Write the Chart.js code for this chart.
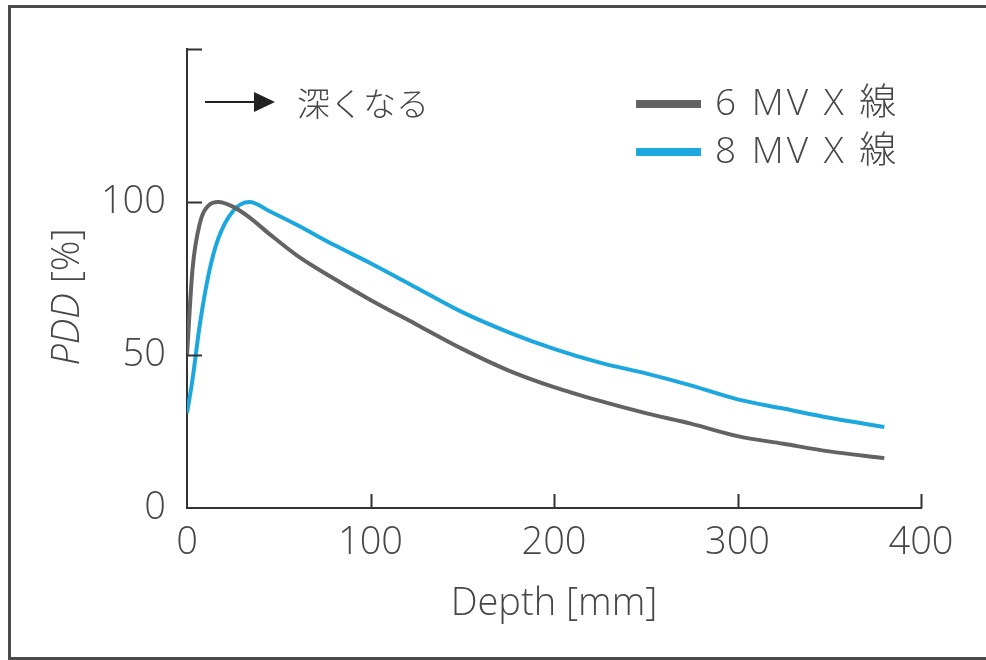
<!DOCTYPE html>
<html>
<head>
<meta charset="utf-8">
<script src="https://cdn.jsdelivr.net/npm/chart.js@4.4.1/dist/chart.umd.min.js"></script>
<style>
  html, body { margin: 0; padding: 0; background: #fff; }
  #wrap { width: 986px; height: 660px; }
</style>
</head>
<body>
<div id="wrap"><canvas id="pdd" width="986" height="660"></canvas></div>
<script>
// 深部線量百分率 (PDD) vs depth
const depth = [0, 3, 7, 12, 17, 25, 34, 45, 60, 80, 100, 125, 150, 175, 200, 225, 250, 275, 300, 325, 350, 380];
const pdd6MV = [50, 78, 93, 99, 100, 98.5, 95, 89.5, 82.5, 75, 68, 60, 52, 45, 39.5, 35, 31, 27.5, 23.5, 21, 18.5, 16.3];
const pdd8MV = [31, 42, 60, 77, 88, 97, 100, 97, 92.5, 86, 80, 72, 64, 57.5, 52, 47.5, 44, 40, 35.5, 32.5, 29.5, 26.5];
const seriesNames = ['6 MV X 線', '8 MV X 線'];
const xTickValues = [100, 200, 300, 400];
const yTickValues = [50, 100, 150];

const GRAY = '#636363';
const BLUE = '#1ca8df';
const TEXT = '#474747';
const FONT = "'Open Sans', 'Noto Sans CJK JP', sans-serif";

function points(ys) {
    return depth.map((d, i) => ({ x: d, y: ys[i] }));
}

// frame, inward ticks, axis titles, legend and the arrow note
const decorations = {
    id: 'decorations',
    beforeDraw(chart) {
        const ctx = chart.ctx;
        ctx.save();
        ctx.fillStyle = '#fff';
        ctx.fillRect(0, 0, chart.width, chart.height);
        ctx.strokeStyle = '#4a4a4a';
        ctx.lineWidth = 3;
        ctx.strokeRect(9.5, 6.5, 1000, 652);
        ctx.restore();
    },
    afterDraw(chart) {
        const ctx = chart.ctx;
        const xs = chart.scales.x, ys = chart.scales.y;
        const area = chart.chartArea;
        ctx.save();

        // tick marks point into the plot
        ctx.strokeStyle = '#333';
        ctx.lineWidth = 2;
        ctx.beginPath();
        yTickValues.forEach(v => {
            const py = Math.round(ys.getPixelForValue(v)) + 0.5;
            ctx.moveTo(area.left, py);
            ctx.lineTo(area.left + 15, py);
        });
        xTickValues.forEach(v => {
            const px = Math.round(xs.getPixelForValue(v)) + 0.5;
            ctx.moveTo(px, area.bottom);
            ctx.lineTo(px, area.bottom - 14);
        });
        ctx.stroke();

        // x title
        ctx.fillStyle = TEXT;
        ctx.font = '300 38px ' + FONT;
        ctx.textAlign = 'center';
        ctx.textBaseline = 'alphabetic';
        ctx.fillText('Depth [mm]', (area.left + area.right) / 2, 615);

        // y title: italic PDD + [%]
        ctx.translate(68, 297);
        ctx.rotate(-Math.PI / 2);
        ctx.textBaseline = 'middle';
        ctx.textAlign = 'left';
        ctx.font = 'italic 300 38px ' + FONT;
        const w1 = ctx.measureText('PDD ').width;
        ctx.font = '300 38px ' + FONT;
        const w2 = ctx.measureText('[%]').width;
        const start = -(w1 + w2) / 2;
        ctx.font = 'italic 300 38px ' + FONT;
        ctx.fillText('PDD ', start, 0);
        ctx.font = '300 38px ' + FONT;
        ctx.fillText('[%]', start + w1, 0);
        ctx.setTransform(1, 0, 0, 1, 0, 0);

        // arrow note
        ctx.strokeStyle = '#222';
        ctx.fillStyle = '#222';
        ctx.lineWidth = 2;
        ctx.beginPath();
        ctx.moveTo(205, 102);
        ctx.lineTo(256, 102);
        ctx.stroke();
        ctx.beginPath();
        ctx.moveTo(254, 92);
        ctx.lineTo(275, 102);
        ctx.lineTo(254, 112);
        ctx.closePath();
        ctx.fill();
        ctx.fillStyle = TEXT;
        ctx.font = "300 33px 'Noto Sans CJK JP', sans-serif";
        ctx.textAlign = 'left';
        ctx.textBaseline = 'middle';
        ctx.fillText('深くなる', 297, 103);

        // legend
        const rows = [104, 152];
        ctx.letterSpacing = '3px';
        chart.data.datasets.forEach((ds, i) => {
            ctx.fillStyle = ds.borderColor;
            ctx.fillRect(636, rows[i] - 4, 65, 8);
            ctx.fillStyle = TEXT;
            ctx.font = '300 37px ' + FONT;
            ctx.fillText(ds.label, 715, rows[i]);
        });
        ctx.restore();
    }
};

new Chart(document.getElementById('pdd'), {
    type: 'line',
    data: {
        datasets: [
            { label: seriesNames[0], data: points(pdd6MV), borderColor: GRAY, borderWidth: 4, pointRadius: 0, cubicInterpolationMode: 'monotone' },
            { label: seriesNames[1], data: points(pdd8MV), borderColor: BLUE, borderWidth: 4, pointRadius: 0, cubicInterpolationMode: 'monotone' }
        ]
    },
    options: {
        responsive: false,
        animation: false,
        devicePixelRatio: 1,
        layout: { padding: { left: 0, right: 65, top: 49, bottom: 0 }, autoPadding: false },
        plugins: { legend: { display: false }, tooltip: { enabled: false } },
        scales: {
            x: {
                type: 'linear', min: 0, max: 400,
                ticks: { stepSize: 100, padding: 4, color: TEXT, font: { family: FONT, size: 38, weight: 300 } },
                grid: { display: false },
                border: { display: true, color: '#333', width: 2 },
                afterFit(scale) { scale.height = 152; }
            },
            y: {
                min: 0, max: 150,
                ticks: { stepSize: 50, padding: 13, color: TEXT, font: { family: FONT, size: 38, weight: 300 },
                         callback: v => (v <= 100 ? v : '') },
                grid: { display: false },
                border: { display: true, color: '#333', width: 2 },
                afterFit(scale) { scale.width = 187; }
            }
        }
    },
    plugins: [decorations]
});
</script>
</body>
</html>
